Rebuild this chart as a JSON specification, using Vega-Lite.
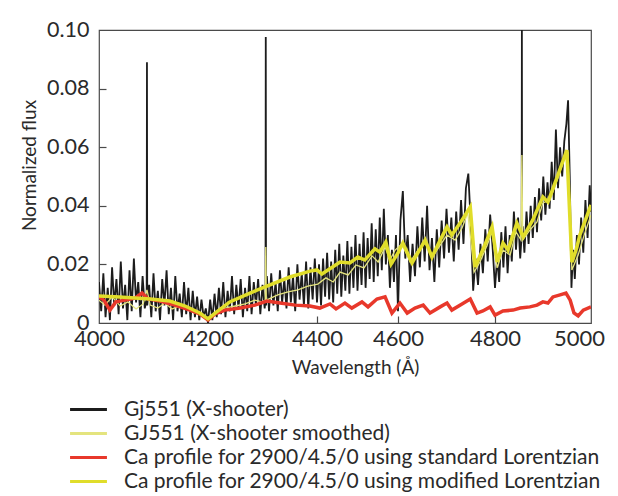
{
  "$schema": "https://vega.github.io/schema/vega-lite/v6.json",
  "autosize": "none",
  "width": 492,
  "height": 293,
  "padding": {"left": 99, "top": 30, "right": 27, "bottom": 173},
  "background": "#ffffff",
  "config": {
    "view": {"stroke": "#4a4a4a", "strokeWidth": 1.2},
    "font": "Lato",
    "axis": {
      "labelFont": "Lato", "labelFontSize": 22, "labelColor": "#2a2a2a", "labelFlush": false,
      "titleFont": "Lato", "titleFontSize": 19, "titleFontWeight": "normal", "titleColor": "#2a2a2a",
      "domain": false, "grid": false, "tickColor": "#4a4a4a", "tickWidth": 1.2
    },
    "legend": {
      "labelFont": "Lato", "labelFontSize": 21, "labelColor": "#2a2a2a", "labelLimit": 600
    }
  },
  "datasets": {
    "black": [
      {"w":4000,"f":0.014},{"w":4004,"f":0.004},{"w":4008,"f":0.017},{"w":4012,"f":0.002},{"w":4016,"f":0.012},{"w":4020,"f":0.001},{"w":4024,"f":0.019},{"w":4028,"f":0.006},{"w":4032,"f":0.015},{"w":4036,"f":0.003},{"w":4040,"f":0.021},{"w":4044,"f":0.005},{"w":4048,"f":0.013},{"w":4052,"f":0.001},{"w":4056,"f":0.018},{"w":4060,"f":0.004},{"w":4064,"f":0.022},{"w":4068,"f":0.007},{"w":4072,"f":0.014},{"w":4076,"f":0.002},{"w":4080,"f":0.016},{"w":4084,"f":0.005},{"w":4087.5,"f":0.008},{"w":4088,"f":0.089},{"w":4088.5,"f":0.006},{"w":4092,"f":0.013},{"w":4096,"f":0.002},{"w":4100,"f":0.017},{"w":4104,"f":0.004},{"w":4108,"f":0.011},{"w":4112,"f":0.001},{"w":4116,"f":0.015},{"w":4120,"f":0.006},{"w":4124,"f":0.018},{"w":4128,"f":0.003},{"w":4132,"f":0.012},{"w":4136,"f":0.001},{"w":4140,"f":0.016},{"w":4144,"f":0.004},{"w":4148,"f":0.010},{"w":4152,"f":0.002},{"w":4156,"f":0.014},{"w":4160,"f":0.003},{"w":4164,"f":0.012},{"w":4168,"f":0.001},{"w":4172,"f":0.011},{"w":4176,"f":0.002},{"w":4180,"f":0.009},{"w":4184,"f":0.001},{"w":4188,"f":0.008},{"w":4192,"f":0.002},{"w":4196,"f":0.005},{"w":4200,"f":0.000},
      {"w":4204,"f":0.008},{"w":4208,"f":0.001},{"w":4212,"f":0.010},{"w":4216,"f":0.002},{"w":4220,"f":0.012},{"w":4224,"f":0.003},{"w":4228,"f":0.014},{"w":4232,"f":0.002},{"w":4236,"f":0.011},{"w":4240,"f":0.004},{"w":4244,"f":0.016},{"w":4248,"f":0.003},{"w":4252,"f":0.013},{"w":4256,"f":0.005},{"w":4260,"f":0.015},{"w":4264,"f":0.002},{"w":4268,"f":0.012},{"w":4272,"f":0.004},{"w":4276,"f":0.016},{"w":4280,"f":0.003},{"w":4284,"f":0.014},{"w":4288,"f":0.006},{"w":4292,"f":0.015},{"w":4296,"f":0.003},{"w":4300,"f":0.013},{"w":4304,"f":0.005},{"w":4305.5,"f":0.008},{"w":4306,"f":0.0976},{"w":4306.5,"f":0.006},{"w":4308,"f":0.016},{"w":4312,"f":0.004},{"w":4316,"f":0.017},{"w":4320,"f":0.006},{"w":4324,"f":0.014},{"w":4328,"f":0.004},{"w":4332,"f":0.018},{"w":4336,"f":0.007},{"w":4340,"f":0.015},{"w":4344,"f":0.005},{"w":4348,"f":0.019},{"w":4352,"f":0.007},{"w":4356,"f":0.016},{"w":4360,"f":0.004},{"w":4364,"f":0.020},{"w":4368,"f":0.008},{"w":4372,"f":0.017},{"w":4376,"f":0.006},{"w":4380,"f":0.021},{"w":4384,"f":0.005},{"w":4388,"f":0.019},{"w":4392,"f":0.008},{"w":4396,"f":0.022},
      {"w":4400,"f":0.007},{"w":4405,"f":0.020},{"w":4410,"f":0.006},{"w":4415,"f":0.022},{"w":4420,"f":0.009},{"w":4425,"f":0.024},{"w":4430,"f":0.008},{"w":4435,"f":0.021},{"w":4440,"f":0.007},{"w":4445,"f":0.025},{"w":4450,"f":0.010},{"w":4455,"f":0.027},{"w":4460,"f":0.009},{"w":4465,"f":0.023},{"w":4470,"f":0.011},{"w":4475,"f":0.028},{"w":4480,"f":0.010},{"w":4485,"f":0.026},{"w":4490,"f":0.012},{"w":4495,"f":0.030},{"w":4500,"f":0.011},{"w":4505,"f":0.027},{"w":4510,"f":0.013},{"w":4515,"f":0.031},{"w":4520,"f":0.012},{"w":4525,"f":0.029},{"w":4530,"f":0.015},{"w":4535,"f":0.034},{"w":4540,"f":0.014},{"w":4545,"f":0.032},{"w":4550,"f":0.016},{"w":4555,"f":0.036},{"w":4560,"f":0.018},{"w":4565,"f":0.039},{"w":4570,"f":0.020},{"w":4575,"f":0.030},{"w":4580,"f":0.012},{"w":4585,"f":0.025},{"w":4590,"f":0.014},{"w":4595,"f":0.030},
      {"w":4600,"f":0.004},{"w":4605,"f":0.035},{"w":4610,"f":0.045},{"w":4615,"f":0.022},{"w":4620,"f":0.030},{"w":4625,"f":0.014},{"w":4630,"f":0.027},{"w":4635,"f":0.016},{"w":4640,"f":0.033},{"w":4645,"f":0.019},{"w":4650,"f":0.036},{"w":4655,"f":0.021},{"w":4660,"f":0.040},{"w":4665,"f":0.018},{"w":4670,"f":0.029},{"w":4675,"f":0.014},{"w":4680,"f":0.032},{"w":4685,"f":0.019},{"w":4690,"f":0.035},{"w":4695,"f":0.022},{"w":4700,"f":0.039},{"w":4705,"f":0.024},{"w":4710,"f":0.036},{"w":4715,"f":0.021},{"w":4720,"f":0.038},{"w":4725,"f":0.025},{"w":4730,"f":0.042},{"w":4735,"f":0.027},{"w":4740,"f":0.046},{"w":4745,"f":0.051},{"w":4750,"f":0.034},{"w":4755,"f":0.011},{"w":4760,"f":0.022},{"w":4765,"f":0.013},{"w":4770,"f":0.027},{"w":4775,"f":0.017},{"w":4780,"f":0.032},{"w":4785,"f":0.021},{"w":4790,"f":0.037},{"w":4795,"f":0.026},
      {"w":4800,"f":0.012},{"w":4805,"f":0.022},{"w":4810,"f":0.014},{"w":4815,"f":0.031},{"w":4820,"f":0.019},{"w":4825,"f":0.033},{"w":4830,"f":0.017},{"w":4835,"f":0.030},{"w":4840,"f":0.021},{"w":4845,"f":0.038},{"w":4850,"f":0.025},{"w":4855,"f":0.036},{"w":4860,"f":0.022},{"w":4863.5,"f":0.030},{"w":4864,"f":0.100},{"w":4864.5,"f":0.028},{"w":4866,"f":0.033},{"w":4870,"f":0.024},{"w":4875,"f":0.038},{"w":4880,"f":0.027},{"w":4885,"f":0.040},{"w":4890,"f":0.029},{"w":4895,"f":0.043},{"w":4900,"f":0.031},{"w":4905,"f":0.046},{"w":4910,"f":0.035},{"w":4915,"f":0.050},{"w":4920,"f":0.037},{"w":4925,"f":0.048},{"w":4930,"f":0.039},{"w":4935,"f":0.055},{"w":4940,"f":0.042},{"w":4945,"f":0.066},{"w":4950,"f":0.046},{"w":4955,"f":0.060},{"w":4960,"f":0.050},{"w":4965,"f":0.062},{"w":4970,"f":0.068},{"w":4974,"f":0.076},{"w":4978,"f":0.050},{"w":4982,"f":0.012},{"w":4986,"f":0.025},{"w":4990,"f":0.015},{"w":4995,"f":0.030},{"w":5000,"f":0.020},{"w":5005,"f":0.036},{"w":5010,"f":0.024},{"w":5015,"f":0.042},{"w":5020,"f":0.029},{"w":5025,"f":0.047},{"w":5028,"f":0.038}
    ],
    "thin": [
      {"w":4000,"f":0.0078},{"w":4011,"f":0.0061},{"w":4024,"f":0.0089},{"w":4039,"f":0.0058},{"w":4053,"f":0.0072},{"w":4068,"f":0.0048},{"w":4081,"f":0.0065},{"w":4088,"f":0.0113},{"w":4094,"f":0.0061},{"w":4108,"f":0.0051},{"w":4121,"f":0.0068},{"w":4134,"f":0.0048},{"w":4149,"f":0.0058},{"w":4167,"f":0.0041},{"w":4185,"f":0.0027},{"w":4200,"f":0.0017},{"w":4213,"f":0.0034},{"w":4231,"f":0.0051},{"w":4250,"f":0.0058},{"w":4268,"f":0.0065},{"w":4286,"f":0.0078},{"w":4299,"f":0.0072},{"w":4305,"f":0.0078},{"w":4306,"f":0.0259},{"w":4307,"f":0.0078},{"w":4328,"f":0.0096},{"w":4347,"f":0.0106},{"w":4365,"f":0.0113},{"w":4383,"f":0.0126},{"w":4402,"f":0.0133},{"w":4422,"f":0.0154},{"w":4440,"f":0.0140},{"w":4457,"f":0.0174},{"w":4477,"f":0.0164},{"w":4496,"f":0.0198},{"w":4516,"f":0.0188},{"w":4536,"f":0.0229},{"w":4551,"f":0.0208},{"w":4568,"f":0.0259},{"w":4580,"f":0.0215},{"w":4593,"f":0.0249},{"w":4608,"f":0.0270},{"w":4625,"f":0.0208},{"w":4641,"f":0.0249},{"w":4656,"f":0.0273},{"w":4670,"f":0.0222},{"w":4687,"f":0.0266},{"w":4701,"f":0.0300},{"w":4718,"f":0.0283},{"w":4732,"f":0.0324},{"w":4744,"f":0.0375},{"w":4757,"f":0.0174},{"w":4769,"f":0.0208},{"w":4784,"f":0.0266},{"w":4794,"f":0.0311},{"w":4805,"f":0.0188},{"w":4819,"f":0.0249},{"w":4836,"f":0.0232},{"w":4850,"f":0.0311},{"w":4862,"f":0.0283},{"w":4864,"f":0.0573},{"w":4866,"f":0.0283},{"w":4883,"f":0.0317},{"w":4900,"f":0.0345},{"w":4914,"f":0.0410},{"w":4931,"f":0.0420},{"w":4948,"f":0.0488},{"w":4964,"f":0.0556},{"w":4974,"f":0.0584},{"w":4983,"f":0.0181},{"w":4998,"f":0.0232},{"w":5012,"f":0.0300},{"w":5028,"f":0.0369}
    ],
    "red": [
      {"w":4000,"f":0.0089},{"w":4009,"f":0.0078},{"w":4020,"f":0.0044},{"w":4031,"f":0.0072},{"w":4048,"f":0.0078},{"w":4066,"f":0.0085},{"w":4079,"f":0.0102},{"w":4090,"f":0.0082},{"w":4112,"f":0.0075},{"w":4139,"f":0.0061},{"w":4167,"f":0.0044},{"w":4185,"f":0.0031},{"w":4200,"f":0.0010},{"w":4213,"f":0.0031},{"w":4231,"f":0.0044},{"w":4259,"f":0.0051},{"w":4286,"f":0.0061},{"w":4308,"f":0.0075},{"w":4332,"f":0.0068},{"w":4360,"f":0.0061},{"w":4387,"f":0.0058},{"w":4407,"f":0.0051},{"w":4432,"f":0.0065},{"w":4447,"f":0.0048},{"w":4469,"f":0.0068},{"w":4486,"f":0.0051},{"w":4511,"f":0.0072},{"w":4526,"f":0.0055},{"w":4548,"f":0.0082},{"w":4568,"f":0.0089},{"w":4585,"f":0.0034},{"w":4604,"f":0.0068},{"w":4619,"f":0.0034},{"w":4635,"f":0.0051},{"w":4652,"f":0.0061},{"w":4666,"f":0.0034},{"w":4687,"f":0.0055},{"w":4701,"f":0.0068},{"w":4711,"f":0.0044},{"w":4732,"f":0.0065},{"w":4749,"f":0.0082},{"w":4763,"f":0.0034},{"w":4775,"f":0.0041},{"w":4790,"f":0.0055},{"w":4800,"f":0.0027},{"w":4819,"f":0.0041},{"w":4843,"f":0.0044},{"w":4860,"f":0.0051},{"w":4883,"f":0.0055},{"w":4900,"f":0.0061},{"w":4914,"f":0.0072},{"w":4926,"f":0.0068},{"w":4938,"f":0.0089},{"w":4955,"f":0.0096},{"w":4969,"f":0.0102},{"w":4979,"f":0.0078},{"w":4988,"f":0.0034},{"w":4998,"f":0.0024},{"w":5010,"f":0.0044},{"w":5028,"f":0.0055}
    ],
    "yellow": [
      {"w":4000,"f":0.0092},{"w":4038,"f":0.0089},{"w":4094,"f":0.0082},{"w":4130,"f":0.0075},{"w":4158,"f":0.0058},{"w":4185,"f":0.0034},{"w":4200,"f":0.0014},{"w":4213,"f":0.0034},{"w":4240,"f":0.0072},{"w":4277,"f":0.0102},{"w":4308,"f":0.0126},{"w":4350,"f":0.0157},{"w":4387,"f":0.0177},{"w":4400,"f":0.0181},{"w":4412,"f":0.0167},{"w":4457,"f":0.0208},{"w":4481,"f":0.0205},{"w":4501,"f":0.0225},{"w":4518,"f":0.0215},{"w":4543,"f":0.0253},{"w":4555,"f":0.0242},{"w":4570,"f":0.0276},{"w":4583,"f":0.0201},{"w":4600,"f":0.0239},{"w":4610,"f":0.0273},{"w":4629,"f":0.0205},{"w":4656,"f":0.0283},{"w":4670,"f":0.0225},{"w":4687,"f":0.0283},{"w":4701,"f":0.0328},{"w":4711,"f":0.0300},{"w":4728,"f":0.0341},{"w":4749,"f":0.0396},{"w":4759,"f":0.0191},{"w":4779,"f":0.0266},{"w":4794,"f":0.0328},{"w":4805,"f":0.0208},{"w":4819,"f":0.0273},{"w":4831,"f":0.0249},{"w":4852,"f":0.0341},{"w":4867,"f":0.0294},{"w":4890,"f":0.0352},{"w":4914,"f":0.0430},{"w":4926,"f":0.0413},{"w":4948,"f":0.0498},{"w":4971,"f":0.0590},{"w":4983,"f":0.0208},{"w":4993,"f":0.0249},{"w":5002,"f":0.0300},{"w":5028,"f":0.0403}
    ]
  },
  "encoding": {
    "x": {
      "field": "w", "type": "quantitative",
      "scale": {"domain": [4000, 4200, 4400, 4600, 4800, 5000, 5028], "range": [0, 109, 218, 299, 396, 480, 492]},
      "axis": {
        "values": [4000, 4200, 4400, 4600, 4800, 5000],
        "format": "d",
        "tickSize": -7,
        "labelPadding": 12,
        "tickOpacity": {"expr": "datum.value == 5000 || datum.value == 4000 ? 0 : 1"},
        "title": "Wavelength (Å)",
        "titleX": 256, "titleY": 44, "titleBaseline": "middle"
      }
    },
    "y": {
      "field": "f", "type": "quantitative",
      "scale": {"domain": [0, 0.1], "nice": false},
      "axis": {
        "values": [0, 0.02, 0.04, 0.06, 0.08, 0.1],
        "labelExpr": "datum.value == 0 ? '0' : format(datum.value, '.2f')",
        "labelFontSize": 21.5,
        "tickSize": -7,
        "labelPadding": 17,
        "tickOpacity": {"expr": "datum.value == 0 || datum.value == 0.1 ? 0 : 1"},
        "title": "Normalized flux",
        "titleX": -70, "titleY": 135, "titleBaseline": "middle", "titleAngle": -90
      }
    }
  },
  "layer": [
    {
      "data": {"name": "black"},
      "mark": {"type": "line", "strokeWidth": 1.8, "clip": true},
      "encoding": {
        "color": {
          "datum": "Gj551 (X-shooter)",
          "type": "nominal",
          "scale": {
            "domain": ["Gj551 (X-shooter)", "GJ551 (X-shooter smoothed)", "Ca profile for 2900/4.5/0 using standard Lorentzian", "Ca profile for 2900/4.5/0 using modified Lorentzian"],
            "range": ["#1c1c1c", "#e4e47e", "#e8382b", "#e0dd2a"]
          },
          "legend": {
            "title": null,
            "orient": "none",
            "legendX": -21,
            "legendY": 369,
            "symbolType": "M-4,0L4,0",
            "symbolSize": 85,
            "symbolStrokeWidth": 3,
            "labelOffset": 25,
            "rowPadding": 2
          }
        }
      }
    },
    {
      "data": {"name": "thin"},
      "mark": {"type": "line", "strokeWidth": 1.3, "clip": true},
      "encoding": {"color": {"datum": "GJ551 (X-shooter smoothed)", "type": "nominal"}}
    },
    {
      "data": {"name": "red"},
      "mark": {"type": "line", "strokeWidth": 3.5, "clip": true},
      "encoding": {"color": {"datum": "Ca profile for 2900/4.5/0 using standard Lorentzian", "type": "nominal"}}
    },
    {
      "data": {"name": "yellow"},
      "mark": {"type": "line", "strokeWidth": 3.5, "clip": true},
      "encoding": {"color": {"datum": "Ca profile for 2900/4.5/0 using modified Lorentzian", "type": "nominal"}}
    }
  ]
}
